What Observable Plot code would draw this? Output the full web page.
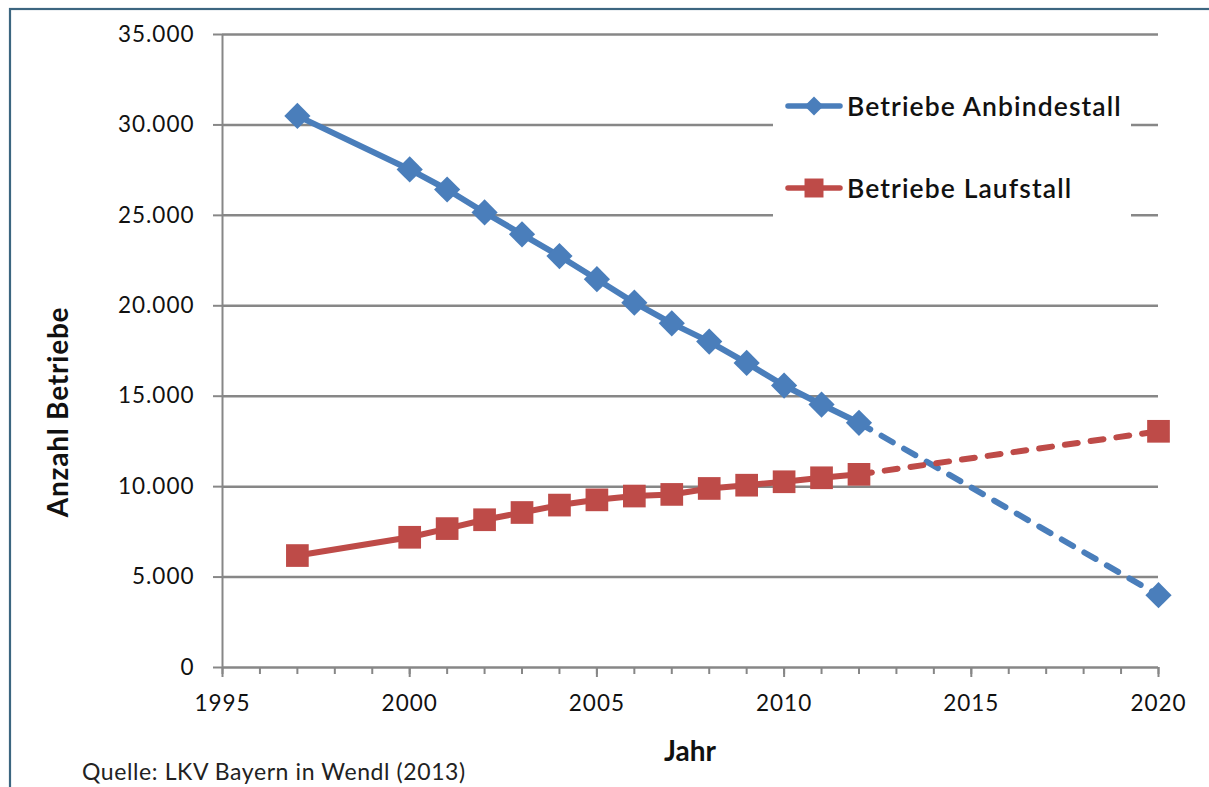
<!DOCTYPE html>
<html>
<head>
<meta charset="utf-8">
<script src="https://cdn.jsdelivr.net/npm/d3@7"></script>
<script src="https://cdn.jsdelivr.net/npm/@observablehq/plot@0.6"></script>
<style>
  html, body { margin: 0; padding: 0; background: #fff; }
  #chart svg { display: block; }
</style>
</head>
<body>
<div id="chart"></div>
<script>
// ---- data ----
const years = [1997, 2000, 2001, 2002, 2003, 2004, 2005, 2006, 2007, 2008, 2009, 2010, 2011, 2012, 2020];
const anbindestall = [30500, 27540, 26430, 25160, 23950, 22750, 21470, 20170, 19030, 18020, 16840, 15590, 14540, 13530, 4000];
const laufstall = [6190, 7200, 7680, 8170, 8570, 8980, 9270, 9480, 9570, 9900, 10080, 10270, 10490, 10680, 13060];
const seriesNames = ["Betriebe Anbindestall", "Betriebe Laufstall"];
const forecastFrom = 2012;
const yTicks = [0, 5000, 10000, 15000, 20000, 25000, 30000, 35000];
const xMajorTicks = [1995, 2000, 2005, 2010, 2015, 2020];
const xMinorTicks = d3.range(1995, 2021);
const xLabel = "Jahr";
const yLabel = "Anzahl Betriebe";
const caption = "Quelle: LKV Bayern in Wendl (2013)";

const colors = {"Betriebe Anbindestall": "#4a7ebb", "Betriebe Laufstall": "#be4b48"};
const symbols = {"Betriebe Anbindestall": "diamond2", "Betriebe Laufstall": "square"};

const rows = [];
for (const [name, vals] of [[seriesNames[0], anbindestall], [seriesNames[1], laufstall]]) {
  years.forEach((yr, i) => rows.push({series: name, year: yr, value: vals[i]}));
}
const solid = rows.filter(d => d.year <= forecastFrom);
const dashed = rows.filter(d => d.year >= forecastFrom);

const de = d3.formatLocale({decimal: ",", thousands: ".", grouping: [3], currency: ["", " €"]});
const fmt = de.format(",");

const FONT = "Lato, 'Open Sans', sans-serif";
const GRAY = "#878787";

const plot = Plot.plot({
  width: 1209,
  height: 787,
  marginLeft: 222,
  marginRight: 51,
  marginTop: 34,
  marginBottom: 120,
  style: {fontFamily: FONT, background: "#fff", color: "#111"},
  x: {domain: [1995, 2020]},
  y: {domain: [0, 35000]},
  marks: [
    Plot.ruleY(yTicks, {stroke: GRAY, strokeWidth: 2.5}),
    Plot.ruleX([1995], {stroke: GRAY, strokeWidth: 2}),
    Plot.axisY({ticks: yTicks, tickSize: 9, tickPadding: 19, tickFormat: fmt, stroke: GRAY, strokeWidth: 2, fontSize: 22.5, label: null}),
    Plot.axisX({ticks: xMinorTicks, tickSize: 7, tickFormat: () => "", stroke: GRAY, strokeWidth: 2, label: null}),
    Plot.axisX({ticks: xMajorTicks, tickSize: 10, tickPadding: 18, tickFormat: d => String(d), stroke: GRAY, strokeWidth: 2, fontSize: 22.5, label: null}),
    Plot.line(solid, {x: "year", y: "value", z: "series", stroke: d => colors[d.series], strokeWidth: 6, strokeLinecap: "round", strokeLinejoin: "round"}),
    Plot.line(dashed, {x: "year", y: "value", z: "series", stroke: d => colors[d.series], strokeWidth: 6, strokeLinecap: "round", strokeDasharray: "13,13"}),
    Plot.dot(rows.filter(d => d.series === seriesNames[0]), {x: "year", y: "value", symbol: "diamond2", r: 11.8, fill: colors[seriesNames[0]], stroke: "none"}),
    Plot.dot(rows.filter(d => d.series === seriesNames[1]), {x: "year", y: "value", symbol: "square", r: 12.8, fill: colors[seriesNames[1]], stroke: "none"})
  ]
});

const svg = d3.select(plot);
// letter spacing on tick labels
svg.selectAll("text").attr("letter-spacing", "1");

// frame border
svg.append("rect").attr("x", 10).attr("y", 9).attr("width", 1260).attr("height", 840)
  .attr("fill", "none").attr("stroke", "#3c6680").attr("stroke-width", 2.2);

// legend
const lg = svg.append("g").attr("text-anchor", "start");
lg.append("rect").attr("x", 773).attr("y", 62).attr("width", 358).attr("height", 168).attr("fill", "#fff");
seriesNames.forEach((name, i) => {
  const cy = 106 + i * 82;
  lg.append("line").attr("x1", 788).attr("x2", 840).attr("y1", cy).attr("y2", cy)
    .attr("stroke", colors[name]).attr("stroke-width", 5.5).attr("stroke-linecap", "round");
  lg.append("path").attr("transform", `translate(814,${cy})`)
    .attr("d", d3.symbol(symbols[name] === "square" ? d3.symbolSquare : d3.symbolDiamond2, symbols[name] === "square" ? 360 : 230)())
    .attr("fill", colors[name]);
  lg.append("text").attr("x", 847).attr("y", cy).attr("dy", "0.36em").attr("text-anchor", "start")
    .attr("font-family", FONT).attr("font-size", 26.5).attr("font-weight", 600).attr("fill", "#111")
    .attr("letter-spacing", "1.1").text(name);
});

// axis titles
svg.append("text").attr("x", 690).attr("y", 751).attr("dy", "0.36em").attr("text-anchor", "middle")
  .attr("font-family", FONT).attr("font-size", 28).attr("font-weight", 700).attr("fill", "#111").text(xLabel);
svg.append("text").attr("transform", "translate(58,412) rotate(-90)").attr("dy", "0.36em").attr("text-anchor", "middle")
  .attr("font-family", FONT).attr("font-size", 28).attr("font-weight", 700).attr("fill", "#111")
  .attr("letter-spacing", "0.8").text(yLabel);
// caption
svg.append("text").attr("x", 82).attr("y", 772).attr("dy", "0.36em").attr("text-anchor", "start")
  .attr("font-family", FONT).attr("font-size", 23).attr("fill", "#222").attr("letter-spacing", "0.6").text(caption);

document.getElementById("chart").appendChild(plot);
</script>
</body>
</html>
